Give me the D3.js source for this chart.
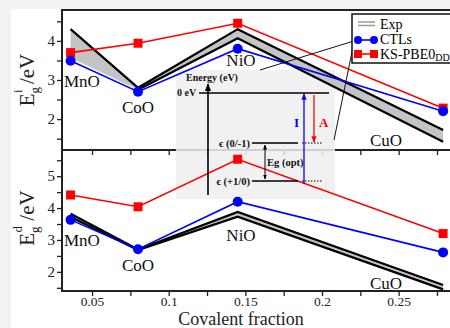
<!DOCTYPE html>
<html>
<head>
<meta charset="utf-8">
<script src="https://cdn.jsdelivr.net/npm/d3@7"></script>
<style>
  html, body { margin: 0; padding: 0; background: #f2f2f2; }
  svg { display: block; }
  text { font-family: "Liberation Serif", "Times New Roman", serif; }
</style>
</head>
<body>
<svg id="chart"></svg>
<script>
// compounds and their covalent fraction
const compounds = ["MnO", "CoO", "NiO", "CuO"];
const covalent = [0.036, 0.080, 0.145, 0.279];

// indirect gap (top panel)
const ctlI = [3.49, 2.70, 3.80, 2.20];
const ksI = [3.70, 3.94, 4.45, 2.28];
const expHighI = [4.30, 2.80, 4.30, 1.72];
const expLowI = [3.57, 2.75, 4.07, 1.42];

// direct gap (bottom panel)
const ctlD = [3.63, 2.71, 4.20, 2.61];
const ksD = [4.41, 4.04, 5.53, 3.20];
const expHighD = [3.82, 2.70, 3.88, 1.59];
const expLowD = [3.72, 2.68, 3.73, 1.45];

const xTicks = [0.05, 0.1, 0.15, 0.2, 0.25];
const xTickLabels = ["0.05", "0.1", "0.15", "0.2", "0.25"];
const yTopTicks = [2, 3, 4];
const yBotTicks = [2, 3, 4, 5];

const width = 450, height = 328;
const svg = d3.select("#chart").attr("width", width).attr("height", height);

// white figure area
svg.append("rect").attr("x", 11).attr("y", 9).attr("width", width).attr("height", height)
    .attr("fill", "#fff");

const x = d3.scaleLinear().domain([0.0304, 0.2848]).range([62, 452]);
const yTop = d3.scaleLinear().domain([1.21, 4.79]).range([150, 10]);
const yBot = d3.scaleLinear().domain([1.40, 5.82]).range([291, 150]);

const defs = svg.append("defs");
function marker(id, color) {
    defs.append("marker").attr("id", id)
        .attr("viewBox", "0 0 10 10").attr("refX", 9).attr("refY", 5)
        .attr("markerWidth", 5).attr("markerHeight", 5)
        .attr("orient", "auto-start-reverse")
        .append("path").attr("d", "M0,1L10,5L0,9z").attr("fill", color);
}
marker("arrBlack", "#000");
marker("arrBlue", "#0000ff");
marker("arrRed", "#ff0000");

// ---- axes ----
const axisColor = "#222";
function xAxis(yPos) {
    const minor = d3.range(0.05, 0.28, 0.025);
    const g = svg.append("g").attr("transform", `translate(0,${yPos})`);
    g.call(d3.axisBottom(x).tickValues(minor).tickSize(5).tickFormat(""));
    g.select(".domain").remove();
    g.selectAll("line").attr("stroke", axisColor).attr("stroke-width", 1.3);
}
xAxis(291);
xAxis(150); // ticks pointing into lower panel from the shared axis

const xl = svg.append("g").attr("transform", "translate(0,291)")
    .call(d3.axisBottom(x).tickValues(xTicks).tickSize(0)
        .tickFormat((d, i) => xTickLabels[i]));
xl.select(".domain").remove();
xl.selectAll("text").attr("font-size", 13.5).attr("fill", "#222")
    .attr("font-family", "Liberation Serif").attr("dy", "0.9em");

function yAxis(scale, ticks, lo, hi) {
    const minor = d3.range(lo, hi + 0.01, 0.5);
    const g = svg.append("g").attr("transform", "translate(62,0)");
    g.call(d3.axisLeft(scale).tickValues(minor).tickSize(5)
        .tickFormat(d => ticks.includes(d) ? d : ""));
    g.select(".domain").remove();
    g.selectAll("line").attr("stroke", axisColor).attr("stroke-width", 1.3);
    g.selectAll("text").attr("font-size", 15).attr("fill", "#222")
        .attr("font-family", "Liberation Serif").attr("x", -7);
}
yAxis(yTop, yTopTicks, 1.5, 4.5);
yAxis(yBot, yBotTicks, 1.5, 5.5);

// frame
const frame = svg.append("g").attr("stroke", axisColor).attr("stroke-width", 2).attr("fill", "none");
frame.append("rect").attr("x", 62).attr("y", 10).attr("width", 392).attr("height", 281);
frame.append("line").attr("x1", 62).attr("x2", 454).attr("y1", 150).attr("y2", 150);

// ---- inset background (semi transparent over axes) ----
svg.append("rect").attr("x", 176).attr("y", 70).attr("width", 159).attr("height", 129)
    .attr("fill", "#eeeeee").attr("opacity", 0.85);

// ---- data ----
function drawPanel(y, high, low, ctl, ks, lowFirstBlack) {
    const pts = covalent.map((c, i) => i);
    const area = d3.area().x(i => x(covalent[i])).y0(i => y(low[i])).y1(i => y(high[i]));
    svg.append("path").datum(pts).attr("d", area).attr("fill", "#c4c4c4");
    const lineHigh = d3.line().x(i => x(covalent[i])).y(i => y(high[i]));
    const lineLow = d3.line().x(i => x(covalent[i])).y(i => y(low[i]));
    svg.append("path").datum(pts).attr("d", lineHigh)
        .attr("fill", "none").attr("stroke", "#000").attr("stroke-width", 2.2);
    svg.append("path").datum(lowFirstBlack ? pts : pts.slice(1)).attr("d", lineLow)
        .attr("fill", "none").attr("stroke", "#000").attr("stroke-width", 2.2);

    const lineK = d3.line().x(i => x(covalent[i])).y(i => y(ks[i]));
    svg.append("path").datum(pts).attr("d", lineK)
        .attr("fill", "none").attr("stroke", "#ff0000").attr("stroke-width", 1.6);
    svg.selectAll(null).data(pts).enter().append("rect")
        .attr("x", i => x(covalent[i]) - 4.5).attr("y", i => y(ks[i]) - 4.5)
        .attr("width", 9).attr("height", 9).attr("fill", "#ff0000");

    const lineC = d3.line().x(i => x(covalent[i])).y(i => y(ctl[i]));
    svg.append("path").datum(pts).attr("d", lineC)
        .attr("fill", "none").attr("stroke", "#0000ff").attr("stroke-width", 1.6);
    svg.selectAll(null).data(pts).enter().append("circle")
        .attr("cx", i => x(covalent[i])).attr("cy", i => y(ctl[i]))
        .attr("r", 5).attr("fill", "#0000ff");
}
drawPanel(yTop, expHighI, expLowI, ctlI, ksI, false);
drawPanel(yBot, expHighD, expLowD, ctlD, ksD, true);

// compound labels
const labTop = [[64, 87, "start"], [138, 113, "middle"], [241, 66, "middle"], [386, 146, "middle"]];
const labBot = [[64, 246, "start"], [138, 271, "middle"], [241, 241, "middle"], [386, 289, "middle"]];
[labTop, labBot].forEach(labs => {
    svg.selectAll(null).data(compounds).enter().append("text")
        .attr("x", (d, i) => labs[i][0]).attr("y", (d, i) => labs[i][1])
        .attr("text-anchor", (d, i) => labs[i][2])
        .attr("font-size", 17).attr("fill", "#111").text(d => d);
});

// ---- inset drawing ----
const inset = svg.append("g").attr("font-weight", "bold").attr("font-size", 10.5).attr("fill", "#111");
inset.append("text").attr("x", 186).attr("y", 81).attr("font-size", 10).text("Energy (eV)");
inset.append("line").attr("x1", 208).attr("x2", 208).attr("y1", 195).attr("y2", 84)
    .attr("stroke", "#000").attr("stroke-width", 1.6).attr("marker-end", "url(#arrBlack)");
inset.append("text").attr("x", 177).attr("y", 96).attr("font-size", 10).text("0 eV");
inset.append("line").attr("x1", 199).attr("x2", 329).attr("y1", 93).attr("y2", 93)
    .attr("stroke", "#000").attr("stroke-width", 1.6);

const lvl = [[143, "\u03f5 (0/-1)"], [181, "\u03f5 (+1/0)"]];
lvl.forEach(([yy, t]) => {
    inset.append("text").attr("x", 250).attr("y", yy + 3.5).attr("text-anchor", "end").text(t);
    inset.append("line").attr("x1", 252).attr("x2", 298).attr("y1", yy).attr("y2", yy)
        .attr("stroke", "#000").attr("stroke-width", 1.6);
    inset.append("line").attr("x1", 302).attr("x2", 322).attr("y1", yy).attr("y2", yy)
        .attr("stroke", "#000").attr("stroke-width", 1.2).attr("stroke-dasharray", "1.5,1.5");
});
inset.append("line").attr("x1", 265).attr("x2", 265).attr("y1", 145).attr("y2", 179)
    .attr("stroke", "#000").attr("stroke-width", 1)
    .attr("marker-start", "url(#arrBlack)").attr("marker-end", "url(#arrBlack)");
inset.append("text").attr("x", 267).attr("y", 166).text("Eg (opt)");

inset.append("line").attr("x1", 304).attr("x2", 304).attr("y1", 184).attr("y2", 94)
    .attr("stroke", "#0000ff").attr("stroke-width", 1.3).attr("marker-end", "url(#arrBlue)");
inset.append("text").attr("x", 294).attr("y", 127).attr("font-size", 13)
    .attr("fill", "#0000ff").attr("font-family", "DejaVu Serif").text("I");
inset.append("line").attr("x1", 314).attr("x2", 314).attr("y1", 95).attr("y2", 142)
    .attr("stroke", "#ff0000").attr("stroke-width", 1.3).attr("marker-end", "url(#arrRed)");
inset.append("text").attr("x", 319).attr("y", 127).attr("font-size", 13)
    .attr("fill", "#ff0000").text("A");

// pointer lines from legend
svg.append("line").attr("x1", 357).attr("y1", 40).attr("x2", 260).attr("y2", 70)
    .attr("stroke", "#111").attr("stroke-width", 1);
svg.append("line").attr("x1", 354).attr("y1", 42).attr("x2", 334).attr("y2", 140)
    .attr("stroke", "#111").attr("stroke-width", 1);

// ---- legend ----
const lg = svg.append("g");
lg.append("rect").attr("x", 352).attr("y", 14).attr("width", 100).attr("height", 49)
    .attr("fill", "#fff").attr("stroke", "#111").attr("stroke-width", 1.5);
lg.append("line").attr("x1", 358).attr("x2", 375).attr("y1", 22).attr("y2", 22).attr("stroke", "#999").attr("stroke-width", 1.5);
lg.append("line").attr("x1", 358).attr("x2", 375).attr("y1", 25.5).attr("y2", 25.5).attr("stroke", "#999").attr("stroke-width", 1.5);
lg.append("text").attr("x", 380).attr("y", 28.5).attr("font-size", 14).text("Exp");
lg.append("line").attr("x1", 358).attr("x2", 374).attr("y1", 40).attr("y2", 40).attr("stroke", "#0000ff").attr("stroke-width", 1.6);
[358, 374].forEach(cx => lg.append("circle").attr("cx", cx).attr("cy", 40).attr("r", 4).attr("fill", "#0000ff"));
lg.append("text").attr("x", 380).attr("y", 44).attr("font-size", 14).text("CTLs");
lg.append("line").attr("x1", 358).attr("x2", 374).attr("y1", 54).attr("y2", 54).attr("stroke", "#ff0000").attr("stroke-width", 1.6);
[358, 374].forEach(cx => lg.append("rect").attr("x", cx - 4).attr("y", 50).attr("width", 8).attr("height", 8).attr("fill", "#ff0000"));
const kt = lg.append("text").attr("x", 380).attr("y", 59).attr("font-size", 14);
kt.append("tspan").text("KS-PBE0");
kt.append("tspan").attr("font-size", 10).attr("dy", 2).text("DD");

// ---- axis titles ----
function yTitle(cy, sup) {
    const t = svg.append("text").attr("transform", `translate(34,${cy}) rotate(-90)`)
        .attr("text-anchor", "middle").attr("font-size", 21).attr("fill", "#222");
    t.append("tspan").text("E");
    t.append("tspan").attr("font-size", 13).attr("dy", 5).text("g");
    t.append("tspan").attr("font-size", 13).attr("dx", -6).attr("dy", -17).text(sup);
    t.append("tspan").attr("dy", 12).text(" /eV");
}
yTitle(80, "i");
yTitle(218, "d");

svg.append("text").attr("x", 241).attr("y", 325).attr("text-anchor", "middle")
    .attr("font-size", 18).attr("fill", "#222").text("Covalent fraction");
</script>
</body>
</html>
